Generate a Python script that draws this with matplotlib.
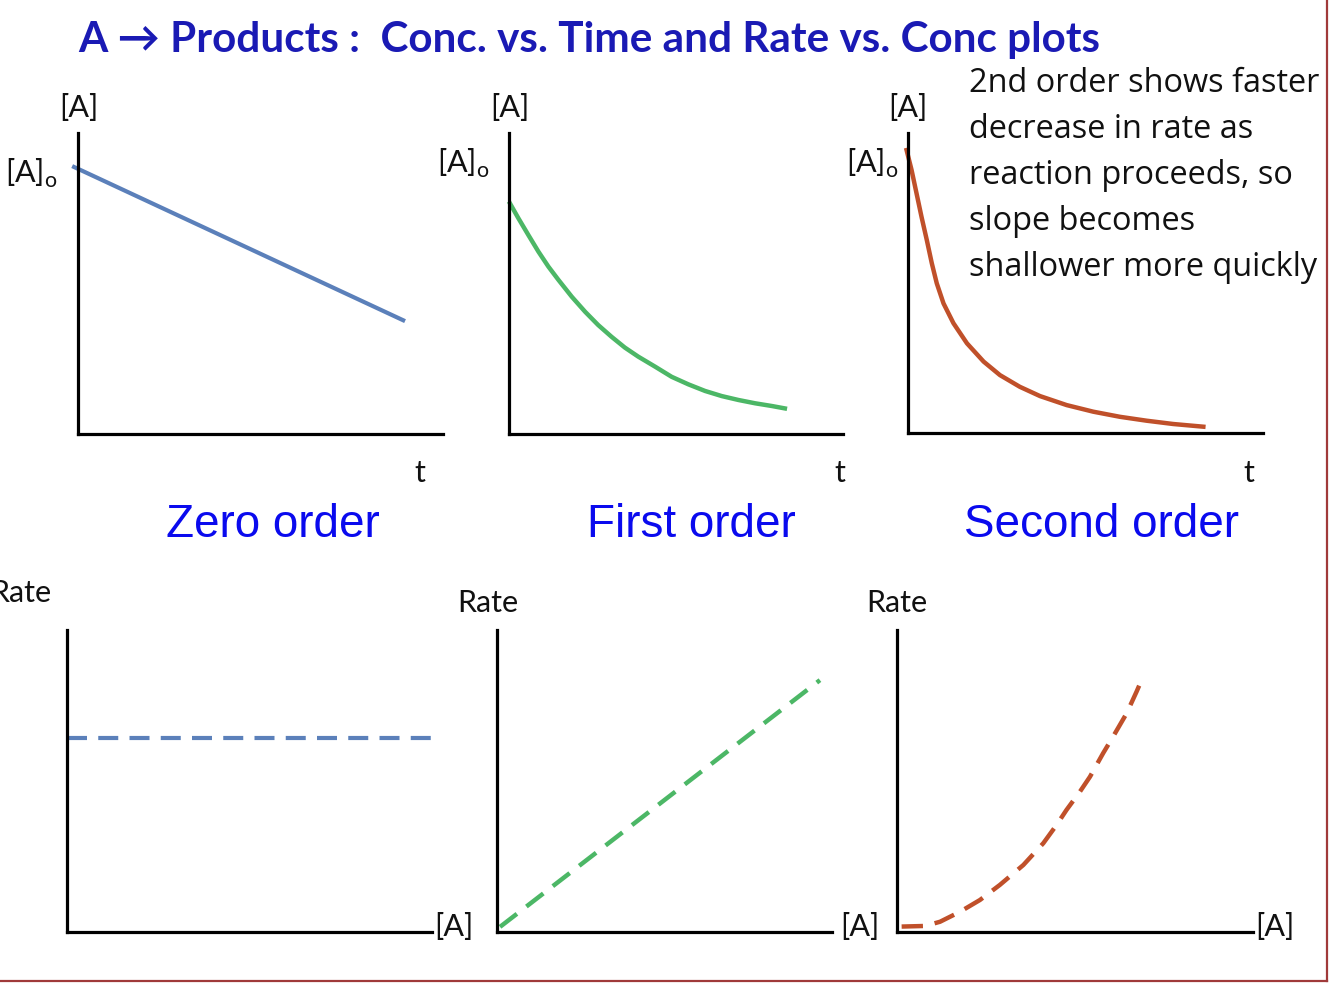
"""A -> Products: concentration vs time and rate vs concentration sketches."""

import matplotlib

matplotlib.use("Agg")
import matplotlib.pyplot as plt
from matplotlib.lines import Line2D

W, H = 1334, 989
DPI = 100

plt.rcParams["font.family"] = ["Lato", "DejaVu Sans"]
plt.rcParams["mathtext.fontset"] = "custom"
plt.rcParams["mathtext.rm"] = "Lato"

# ---- data (axis-fraction units) ----
zero_t = [-0.016, 0.896]
zero_conc = [0.890, 0.375]

first_t = [0.003, 0.028, 0.058, 0.088, 0.118, 0.148, 0.188, 0.228, 0.267, 0.307, 0.347,
           0.387, 0.437, 0.487, 0.537, 0.587, 0.637, 0.687, 0.737, 0.787, 0.826]
first_conc = [0.766, 0.717, 0.661, 0.606, 0.556, 0.512, 0.456, 0.406, 0.362, 0.323, 0.287,
              0.257, 0.224, 0.190, 0.165, 0.143, 0.126, 0.113, 0.102, 0.093, 0.085]

second_t = [-0.004, 0.010, 0.024, 0.038, 0.053, 0.067, 0.081, 0.100, 0.128, 0.166,
            0.213, 0.259, 0.315, 0.372, 0.447, 0.522, 0.597, 0.672, 0.747, 0.832]
second_conc = [0.943, 0.877, 0.799, 0.721, 0.643, 0.566, 0.499, 0.432, 0.366, 0.299,
               0.238, 0.193, 0.154, 0.123, 0.093, 0.071, 0.054, 0.041, 0.030, 0.021]

zero_a = [0.0, 1.014]
zero_rate = [0.642, 0.642]

first_a = [0.009, 0.964]
first_rate = [0.017, 0.834]

second_a = [0.013, 0.079, 0.121, 0.177, 0.233, 0.289, 0.355, 0.411, 0.448,
            0.476, 0.514, 0.542, 0.579, 0.607, 0.645, 0.673, 0.687]
second_rate = [0.018, 0.020, 0.034, 0.067, 0.106, 0.156, 0.222, 0.294, 0.354,
               0.404, 0.465, 0.514, 0.592, 0.647, 0.724, 0.796, 0.834]

BLUE_LINE = "#5b80ba"
GREEN_LINE = "#4cb766"
RED_LINE = "#c0502a"
TITLE_BLUE = "#1a1ab4"
ORDER_BLUE = "#0a0aee"
BORDER = "#a03a3a"

# axis boxes in pixels: (x origin, x end, y origin, y top)
BOXES = {
    "zero_ct": (78, 443, 434, 133),
    "first_ct": (509, 843, 434, 133),
    "second_ct": (908, 1263, 433, 133),
    "zero_rc": (67, 432, 932, 630),
    "first_rc": (497, 832, 932, 630),
    "second_rc": (897, 1253, 932, 630),
}


def fx(px):
    return px / W


def fy(py):
    return 1 - py / H


def make_axes(fig, key):
    x0, x1, y0, ytop = BOXES[key]
    ax = fig.add_axes([fx(x0), fy(y0), (x1 - x0) / W, (y0 - ytop) / H])
    ax.set_xlim(0, 1)
    ax.set_ylim(0, 1)
    for side in ("top", "right"):
        ax.spines[side].set_visible(False)
    for side in ("left", "bottom"):
        ax.spines[side].set_linewidth(2.3)
        ax.spines[side].set_color("black")
    ax.set_xticks([])
    ax.set_yticks([])
    ax.patch.set_alpha(0)
    return ax


fig = plt.figure(figsize=(W / DPI, H / DPI), dpi=DPI)

ax = make_axes(fig, "zero_ct")
ax.plot(zero_t, zero_conc, color=BLUE_LINE, lw=3, clip_on=False, solid_capstyle="butt")
ax = make_axes(fig, "first_ct")
ax.plot(first_t, first_conc, color=GREEN_LINE, lw=3.2, clip_on=False)
ax = make_axes(fig, "second_ct")
ax.plot(second_t, second_conc, color=RED_LINE, lw=3.2, clip_on=False)

dash = (0, (4.8, 2.7))
ax = make_axes(fig, "zero_rc")
ax.plot(zero_a, zero_rate, color=BLUE_LINE, lw=3, ls=dash, clip_on=False)
ax = make_axes(fig, "first_rc")
ax.plot(first_a, first_rate, color=GREEN_LINE, lw=3.2, ls=dash, clip_on=False)
ax = make_axes(fig, "second_rc")
ax.plot(second_a, second_rate, color=RED_LINE, lw=3.2, ls=dash, clip_on=False)

# ---- text ----
fig.text(fx(78), fy(52), "A \u2192 Products :  Conc. vs. Time and Rate vs. Conc plots",
         fontsize=30.4, fontweight="bold", color=TITLE_BLUE, ha="left", va="baseline")

lab = dict(fontsize=22, color="#111111", va="center")
for cx in (79, 510, 908):
    fig.text(fx(cx), fy(108), "[A]", ha="center", **lab)
fig.text(fx(5), fy(173), r"[A]$_\mathrm{o}$", ha="left", **lab)
fig.text(fx(437), fy(163), r"[A]$_\mathrm{o}$", ha="left", **lab)
fig.text(fx(846), fy(163), r"[A]$_\mathrm{o}$", ha="left", **lab)
for cx in (420, 840, 1249):
    fig.text(fx(cx), fy(473), "t", ha="center", **lab)

fig.text(fx(51), fy(593), "Rate", ha="right", **lab)
fig.text(fx(488), fy(603), "Rate", ha="center", **lab)
fig.text(fx(897), fy(603), "Rate", ha="center", **lab)
fig.text(fx(434), fy(927), "[A]", ha="left", **lab)
fig.text(fx(840), fy(927), "[A]", ha="left", **lab)
fig.text(fx(1255), fy(927), "[A]", ha="left", **lab)

order = dict(fontsize=33, color=ORDER_BLUE, va="center", ha="center",
             family=["Liberation Sans", "DejaVu Sans"])
fig.text(fx(273), fy(525), "Zero order", **order)
fig.text(fx(691), fy(525), "First order", **order)
fig.text(fx(1101), fy(525), "Second order", **order)

note = ["2nd order shows faster", "decrease in rate as", "reaction proceeds, so",
        "slope becomes", "shallower more quickly"]
for i, line in enumerate(note):
    fig.text(fx(969), fy(84 + 45.8 * i), line, fontsize=23.4, color="#111111",
             ha="left", va="center", family=["Open Sans", "DejaVu Sans"])

# slide border
fig.add_artist(Line2D([fx(1327), fx(1327)], [fy(0), fy(981)], color=BORDER, lw=1.6))
fig.add_artist(Line2D([fx(0), fx(1327)], [fy(981), fy(981)], color=BORDER, lw=1.6))

fig.savefig("out.png", dpi=DPI)
